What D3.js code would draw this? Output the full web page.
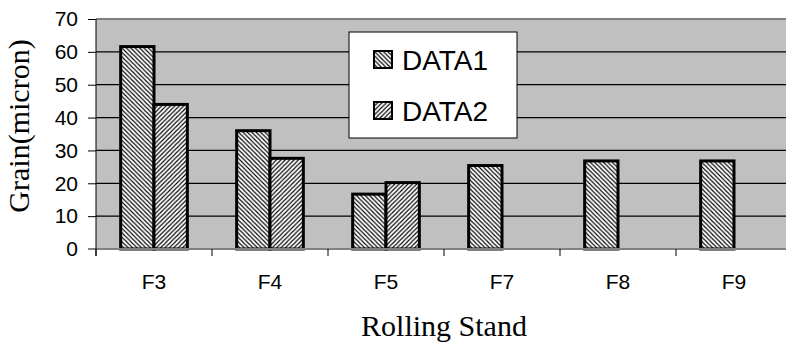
<!DOCTYPE html>
<html>
<head>
<meta charset="utf-8">
<script src="https://cdn.jsdelivr.net/npm/d3@7"></script>
<style>
  html, body { margin: 0; padding: 0; background: #ffffff; }
  svg { display: block; }
</style>
</head>
<body>
<svg id="chart" width="786" height="342"></svg>
<script>
// Grain size per rolling stand
const categories = ["F3", "F4", "F5", "F7", "F8", "F9"];
const seriesNames = ["DATA1", "DATA2"];
const data1 = [61.6, 36.0, 16.7, 25.4, 26.8, 26.8];
const data2 = [44.0, 27.6, 20.2, null, null, null];
const yTicks = [0, 10, 20, 30, 40, 50, 60, 70];
const xTitle = "Rolling Stand";
const yTitle = "Grain(micron)";

const svg = d3.select("#chart");
const plot = { left: 96, right: 792, top: 19, bottom: 249 };

const x = d3.scaleBand().domain(categories).range([plot.left, plot.right]).paddingInner(0).paddingOuter(0);
const xs = d3.scaleBand().domain(seriesNames).range([0, x.bandwidth()]).paddingInner(0).paddingOuter(0.74);
const y = d3.scaleLinear().domain([0, 70]).range([plot.bottom, plot.top]);

// hatch fills
const defs = svg.append("defs");
const hatch = (id, d) => {
  const p = defs.append("pattern").attr("id", id).attr("patternUnits", "userSpaceOnUse")
    .attr("width", 4.4).attr("height", 4.4);
  p.append("rect").attr("width", 4.4).attr("height", 4.4).attr("fill", "#ffffff");
  p.append("path").attr("d", d).attr("stroke", "#000").attr("stroke-width", 1.1).attr("fill", "none");
};
hatch("hatch1", "M-1,-1 L5.4,5.4 M-1,3.4 L1,5.4 M3.4,-1 L5.4,1");
hatch("hatch2", "M-1,5.4 L5.4,-1 M-1,1 L1,-1 M3.4,5.4 L5.4,3.4");
const fills = { DATA1: "url(#hatch1)", DATA2: "url(#hatch2)" };

// plot background
svg.append("rect").attr("x", plot.left).attr("y", plot.top)
  .attr("width", plot.right - plot.left).attr("height", plot.bottom - plot.top)
  .attr("fill", "#c0c0c0");

// gridlines
svg.append("g").selectAll("line").data(yTicks.filter(t => t > 0)).join("line")
  .attr("x1", plot.left).attr("x2", plot.right)
  .attr("y1", d => y(d)).attr("y2", d => y(d))
  .attr("stroke", "#000").attr("stroke-width", 1.2);
svg.append("line").attr("x1", plot.left).attr("x2", plot.right)
  .attr("y1", plot.top).attr("y2", plot.top)
  .attr("stroke", "#808080").attr("stroke-width", 2);

// bars
const rows = categories.map((c, i) => ({ cat: c, vals: [
  { key: "DATA1", v: data1[i] }, { key: "DATA2", v: data2[i] }
].filter(d => d.v != null) }));
svg.append("g").selectAll("g").data(rows).join("g")
  .attr("transform", d => `translate(${x(d.cat)},0)`)
  .selectAll("rect").data(d => d.vals).join("rect")
  .attr("x", d => xs(d.key)).attr("width", xs.bandwidth())
  .attr("y", d => y(d.v)).attr("height", d => y(0) - y(d.v))
  .attr("fill", d => fills[d.key]).attr("stroke", "#000").attr("stroke-width", 3);

// baseline
svg.append("line").attr("x1", plot.left - 8).attr("x2", plot.right)
  .attr("y1", plot.bottom).attr("y2", plot.bottom)
  .attr("stroke", "#808080").attr("stroke-width", 2);

// y axis
const yAxis = svg.append("g").attr("transform", `translate(${plot.left},0)`)
  .call(d3.axisLeft(y).tickValues(yTicks).tickSize(8).tickPadding(10).tickFormat(d3.format("d")));
yAxis.select(".domain").remove();
yAxis.selectAll(".tick line").attr("stroke", "#000");
yAxis.selectAll(".tick").filter(d => d === 0).select("line").remove();
yAxis.append("line").attr("x1", 0).attr("x2", 0).attr("y1", plot.top).attr("y2", plot.bottom + 7)
  .attr("stroke", "#000").attr("stroke-width", 1);
yAxis.selectAll("text").attr("font-family", "'Liberation Sans', Arial, sans-serif")
  .attr("font-size", 21).attr("fill", "#000");

// x axis: ticks at band boundaries, labels at band centres
const bounds = categories.map(c => x(c)).concat([plot.right]);
svg.append("g").selectAll("line").data(bounds).join("line")
  .attr("x1", d => d).attr("x2", d => d)
  .attr("y1", plot.bottom).attr("y2", plot.bottom + 7)
  .attr("stroke", "#000").attr("stroke-width", 1);
svg.append("g").selectAll("text").data(categories).join("text")
  .attr("x", d => x(d) + x.bandwidth() / 2).attr("y", 289)
  .attr("text-anchor", "middle")
  .attr("font-family", "'Liberation Sans', Arial, sans-serif").attr("font-size", 21)
  .text(d => d);

// axis titles
svg.append("text").attr("x", (plot.left + plot.right) / 2).attr("y", 336)
  .attr("text-anchor", "middle")
  .attr("font-family", "'Liberation Serif', 'Times New Roman', serif").attr("font-size", 30)
  .text(xTitle);
svg.append("text").attr("transform", `translate(29,${(plot.top + plot.bottom) / 2 - 8}) rotate(-90)`)
  .attr("text-anchor", "middle")
  .attr("font-family", "'Liberation Serif', 'Times New Roman', serif").attr("font-size", 30)
  .text(yTitle);

// legend
const lg = svg.append("g").attr("transform", "translate(349,32)");
lg.append("rect").attr("width", 168).attr("height", 106)
  .attr("fill", "#fff").attr("stroke", "#000").attr("stroke-width", 1);
const items = lg.selectAll("g").data(seriesNames).join("g")
  .attr("transform", (d, i) => `translate(25,${19 + i * 51})`);
items.append("rect").attr("width", 18).attr("height", 17)
  .attr("fill", d => fills[d]).attr("stroke", "#000").attr("stroke-width", 2);
items.append("text").attr("x", 28).attr("y", 18.5)
  .attr("font-family", "'Liberation Sans', Arial, sans-serif").attr("font-size", 28)
  .text(d => d);
</script>
</body>
</html>
